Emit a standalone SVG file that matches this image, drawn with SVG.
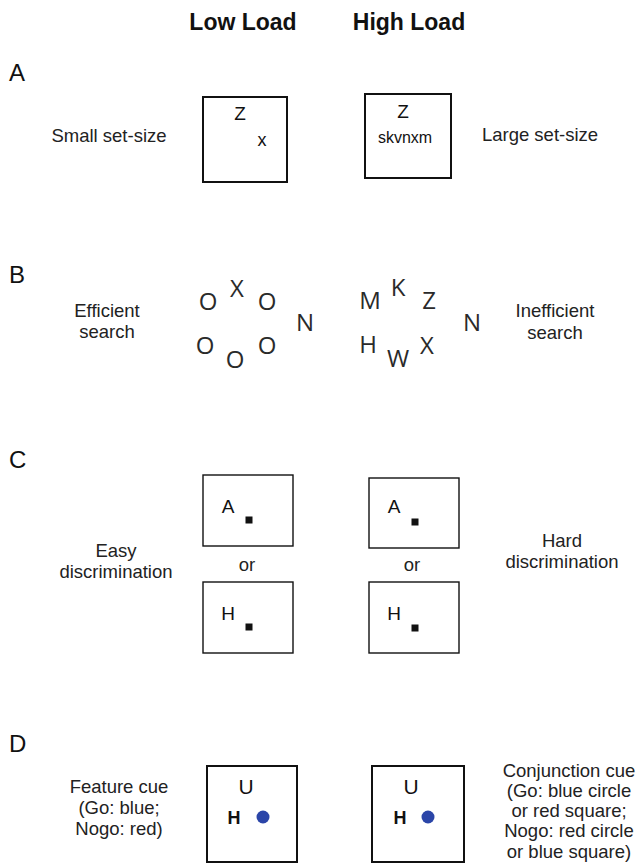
<svg xmlns="http://www.w3.org/2000/svg" width="642" height="868" viewBox="0 0 642 868">
<style>
text{font-family:"Liberation Sans",Arial,sans-serif;fill:#222}
.title{font-size:23px;font-weight:bold;text-anchor:middle;fill:#111}
.panel{font-size:24px;fill:#111}
.lbl{font-size:18.5px;text-anchor:middle}
.box{fill:#fff;stroke:#111;stroke-width:2}
.boxc{fill:#fff;stroke:#111;stroke-width:1.4}
.stim{font-size:16px;text-anchor:middle;fill:#111}
.zz{font-size:19px}
.xx{font-size:18px}
.uu{font-size:21px}
.hh{font-size:18px;font-weight:bold}
.srch{font-family:"Open Sans","Liberation Sans",sans-serif;font-size:24px;text-anchor:middle;fill:#2a2a2a}
.cl{font-size:19px;text-anchor:middle;fill:#111}
.dot{fill:#111}
.blue{fill:#2b45a8}
</style>
<rect width="642" height="868" fill="#fff"/>
<g id="titles">
<text class="title" x="243" y="30">Low Load</text>
<text class="title" x="409" y="30">High Load</text>
</g>
<g id="panelA">
<text class="panel" x="9" y="81">A</text>
<text class="lbl" x="109" y="142">Small set-size</text>
<text class="lbl" x="540" y="141">Large set-size</text>
<g id="A-low">
<rect class="box" x="203" y="97" width="84" height="85"/>
<text class="stim zz" x="240" y="120">Z</text>
<text class="stim xx" x="262" y="146">x</text>
</g>
<g id="A-high">
<rect class="box" x="365" y="94" width="86" height="84"/>
<text class="stim zz" x="403" y="118">Z</text>
<text class="stim" x="405" y="143">skvnxm</text>
</g>
</g>
<g id="panelB">
<text class="panel" x="9" y="283">B</text>
<text class="lbl" x="107" y="317">Efficient</text>
<text class="lbl" x="107" y="338">search</text>
<text class="lbl" x="555" y="317">Inefficient</text>
<text class="lbl" x="555" y="339">search</text>
<g id="B-low">
<text class="srch" x="208" y="310">O</text>
<text class="srch" x="237" y="297">X</text>
<text class="srch" x="267" y="310">O</text>
<text class="srch" x="305" y="331">N</text>
<text class="srch" x="205" y="354">O</text>
<text class="srch" x="235" y="368">O</text>
<text class="srch" x="267" y="354">O</text>
</g>
<g id="B-high">
<text class="srch" x="370" y="309">M</text>
<text class="srch" x="398" y="296">K</text>
<text class="srch" x="429" y="309">Z</text>
<text class="srch" x="472" y="331">N</text>
<text class="srch" x="368" y="353">H</text>
<text class="srch" x="398" y="367">W</text>
<text class="srch" x="427" y="354">X</text>
</g>
</g>
<g id="panelC">
<text class="panel" x="9" y="468">C</text>
<text class="lbl" x="116" y="557">Easy</text>
<text class="lbl" x="116" y="578">discrimination</text>
<text class="lbl" x="562" y="547">Hard</text>
<text class="lbl" x="562" y="568">discrimination</text>
<g id="C-low-top">
<rect class="boxc" x="203" y="475" width="90" height="71"/>
<text class="cl" x="228" y="513">A</text>
<rect class="dot" x="245.5" y="516.5" width="7" height="7"/>
</g>
<text class="lbl" x="247" y="571">or</text>
<g id="C-low-bottom">
<rect class="boxc" x="203" y="582" width="90" height="71"/>
<text class="cl" x="228" y="620">H</text>
<rect class="dot" x="245.5" y="623.5" width="7" height="7"/>
</g>
<g id="C-high-top">
<rect class="boxc" x="369" y="478" width="90" height="70"/>
<text class="cl" x="394" y="513">A</text>
<rect class="dot" x="411.5" y="518.5" width="7" height="7"/>
</g>
<text class="lbl" x="412" y="571">or</text>
<g id="C-high-bottom">
<rect class="boxc" x="369" y="582" width="90" height="71"/>
<text class="cl" x="394" y="620">H</text>
<rect class="dot" x="411.5" y="624.5" width="7" height="7"/>
</g>
</g>
<g id="panelD">
<text class="panel" x="9" y="752">D</text>
<text class="lbl" x="119" y="793">Feature cue</text>
<text class="lbl" x="119" y="814">(Go: blue;</text>
<text class="lbl" x="119" y="835">Nogo: red)</text>
<text class="lbl" x="569" y="777">Conjunction cue</text>
<text class="lbl" x="569" y="797">(Go: blue circle</text>
<text class="lbl" x="569" y="817">or red square;</text>
<text class="lbl" x="569" y="837">Nogo: red circle</text>
<text class="lbl" x="569" y="858">or blue square)</text>
<g id="D-low">
<rect class="box" x="207" y="766" width="90" height="96"/>
<text class="stim uu" x="246" y="794">U</text>
<text class="stim hh" x="234" y="824">H</text>
<circle class="blue" cx="263" cy="817" r="6.5"/>
</g>
<g id="D-high">
<rect class="box" x="372" y="766" width="92" height="96"/>
<text class="stim uu" x="411" y="794">U</text>
<text class="stim hh" x="400" y="824">H</text>
<circle class="blue" cx="428" cy="817" r="6.5"/>
</g>
</g>
</svg>
